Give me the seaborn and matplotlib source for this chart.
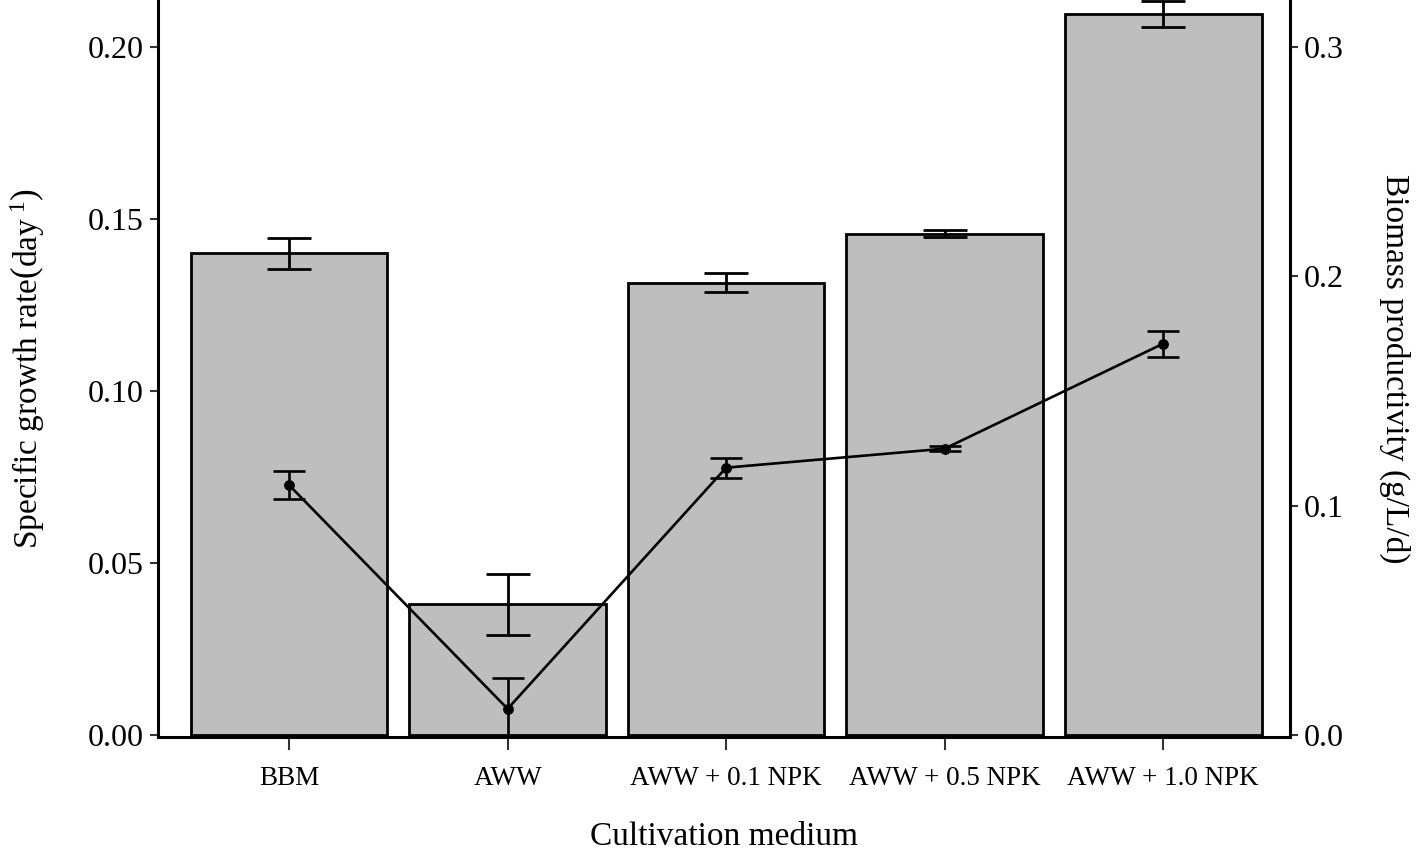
import matplotlib
matplotlib.use("Agg")
import matplotlib.pyplot as plt
import seaborn as sns
import numpy as np
import pandas as pd

categories = ["BBM", "AWW", "AWW + 0.1 NPK", "AWW + 0.5 NPK", "AWW + 1.0 NPK"]
growth_rate = [0.140, 0.038, 0.1315, 0.1458, 0.2096]
growth_err = [0.0044, 0.0089, 0.0028, 0.0010, 0.0038]
productivity = [0.109, 0.0114, 0.1166, 0.1249, 0.1707]
productivity_err = [0.0061, 0.0135, 0.0044, 0.0010, 0.0057]
left_ticks = [0.00, 0.05, 0.10, 0.15, 0.20]
right_ticks = [0.0, 0.1, 0.2, 0.3]

sns.set_style("white")
plt.rcParams["font.family"] = ["Liberation Serif", "DejaVu Serif"]
plt.rcParams["mathtext.fontset"] = "custom"
plt.rcParams["mathtext.rm"] = "Liberation Serif"
plt.rcParams["mathtext.it"] = "Liberation Serif:italic"
plt.rcParams["text.color"] = "black"
plt.rcParams["axes.labelcolor"] = "black"
plt.rcParams["xtick.labelcolor"] = "black"
plt.rcParams["ytick.labelcolor"] = "black"

fig = plt.figure(figsize=(14.18, 8.5), dpi=100)
ax = fig.add_axes([0.1114, 0.1329, 0.9097 - 0.1114, 1.0 - 0.1329])

df = pd.DataFrame({"medium": categories, "rate": growth_rate})
sns.barplot(data=df, x="medium", y="rate", color="#bebebe", saturation=1,
            edgecolor="black", linewidth=2.0, width=0.9, errorbar=None, ax=ax)
pos = np.arange(len(categories))
ax.errorbar(pos, growth_rate, yerr=growth_err, fmt="none", ecolor="black",
            elinewidth=2.0, capsize=16, capthick=2.0, zorder=5)

ax.set_xlim(-0.6, 4.58)
ax.set_ylim(-0.0006, 0.2137)
ax.set_yticks(left_ticks)
ax.set_yticklabels([f"{t:.2f}" for t in left_ticks])
ax.set_xlabel("Cultivation medium", fontsize=24, labelpad=22)
ax.set_ylabel(r"Specific growth rate$\left(\mathrm{day}^{\ 1}\right)$", fontsize=24, labelpad=30)

ax2 = ax.twinx()
sdf = pd.DataFrame({"pos": pos, "prod": productivity})
sns.lineplot(data=sdf, x="pos", y="prod", color="black", linewidth=1.9,
             marker="o", markersize=7, markeredgecolor="black", ax=ax2)
ax2.errorbar(pos, productivity, yerr=productivity_err, fmt="none", ecolor="black",
             elinewidth=1.9, capsize=11.5, capthick=1.9, zorder=5)
ax2.set_ylim(-0.0009, 0.3206)
ax2.set_yticks(right_ticks)
ax2.set_yticklabels([f"{t:.1f}" for t in right_ticks])
ax2.set_ylabel("Biomass productivity (g/L/d)", fontsize=24, rotation=270, labelpad=48)
ax2.set_xlabel("")
ax2.set_xlim(-0.6, 4.58)

for a in (ax, ax2):
    a.spines["top"].set_visible(False)
    for s in a.spines.values():
        s.set_linewidth(2.2)
        s.set_color("black")

ax.spines["right"].set_visible(False)
ax2.spines["left"].set_visible(False)
ax2.spines["bottom"].set_visible(False)

ax.tick_params(axis="y", which="both", left=True, length=6, width=1.5,
               color="#333333", labelsize=23, pad=4, labelcolor="black")
ax.tick_params(axis="x", bottom=True, length=9, width=1.5, color="#333333",
               labelsize=19.5, pad=12, labelcolor="black")
ax2.tick_params(axis="y", right=True, length=6, width=1.5, color="#333333",
                labelsize=23, pad=4, labelcolor="black")

fig.savefig("out.png", dpi=100)
